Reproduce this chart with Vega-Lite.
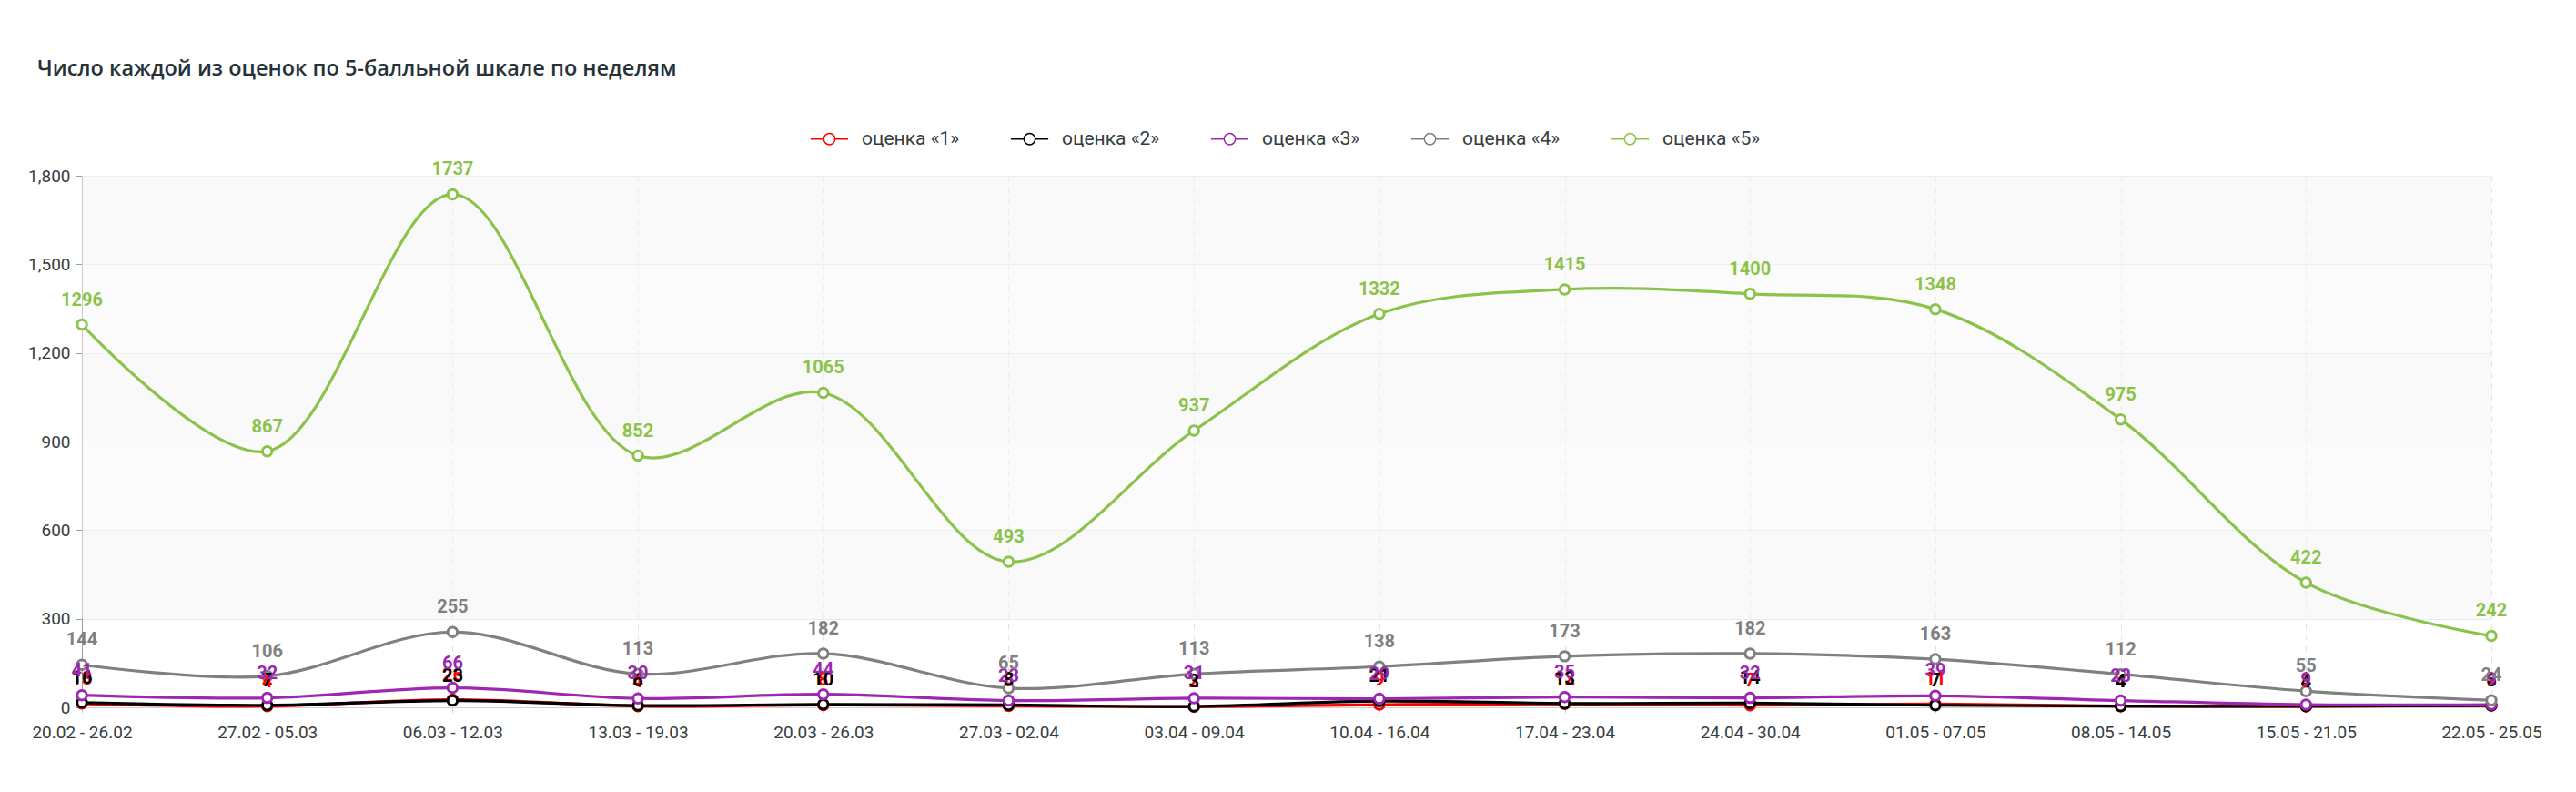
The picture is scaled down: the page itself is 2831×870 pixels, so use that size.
{
  "$schema": "https://vega.github.io/schema/vega-lite/v6.json",
  "width": 2648,
  "height": 584,
  "autosize": {"type": "none"},
  "padding": {"left": 90, "top": 193, "right": 93, "bottom": 93},
  "background": "white",
  "title": {
    "text": "Число каждой из оценок по 5-балльной шкале по неделям",
    "anchor": "start",
    "frame": "group",
    "dx": -49,
    "dy": -40,
    "font": "Open Sans",
    "fontSize": 23.5,
    "fontWeight": 600,
    "color": "#263238"
  },
  "datasets": {
    "bands": [
      {"value": 1500, "value2": 1800, "shade": "a"},
      {"value": 1200, "value2": 1500, "shade": "b"},
      {"value": 900, "value2": 1200, "shade": "a"},
      {"value": 600, "value2": 900, "shade": "b"},
      {"value": 300, "value2": 600, "shade": "a"}
    ]
  },
  "data": {
    "values": [
      {"week": "20.02 - 26.02", "series": "оценка «1»", "value": 13},
      {"week": "27.02 - 05.03", "series": "оценка «1»", "value": 4},
      {"week": "06.03 - 12.03", "series": "оценка «1»", "value": 26},
      {"week": "13.03 - 19.03", "series": "оценка «1»", "value": 4},
      {"week": "20.03 - 26.03", "series": "оценка «1»", "value": 8},
      {"week": "27.03 - 02.04", "series": "оценка «1»", "value": 5},
      {"week": "03.04 - 09.04", "series": "оценка «1»", "value": 2},
      {"week": "10.04 - 16.04", "series": "оценка «1»", "value": 9},
      {"week": "17.04 - 23.04", "series": "оценка «1»", "value": 12},
      {"week": "24.04 - 30.04", "series": "оценка «1»", "value": 7},
      {"week": "01.05 - 07.05", "series": "оценка «1»", "value": 11},
      {"week": "08.05 - 14.05", "series": "оценка «1»", "value": 4},
      {"week": "15.05 - 21.05", "series": "оценка «1»", "value": 3},
      {"week": "22.05 - 25.05", "series": "оценка «1»", "value": 7},
      {"week": "20.02 - 26.02", "series": "оценка «2»", "value": 16},
      {"week": "27.02 - 05.03", "series": "оценка «2»", "value": 7},
      {"week": "06.03 - 12.03", "series": "оценка «2»", "value": 23},
      {"week": "13.03 - 19.03", "series": "оценка «2»", "value": 6},
      {"week": "20.03 - 26.03", "series": "оценка «2»", "value": 10},
      {"week": "27.03 - 02.04", "series": "оценка «2»", "value": 8},
      {"week": "03.04 - 09.04", "series": "оценка «2»", "value": 3},
      {"week": "10.04 - 16.04", "series": "оценка «2»", "value": 21},
      {"week": "17.04 - 23.04", "series": "оценка «2»", "value": 13},
      {"week": "24.04 - 30.04", "series": "оценка «2»", "value": 14},
      {"week": "01.05 - 07.05", "series": "оценка «2»", "value": 7},
      {"week": "08.05 - 14.05", "series": "оценка «2»", "value": 4},
      {"week": "15.05 - 21.05", "series": "оценка «2»", "value": 4},
      {"week": "22.05 - 25.05", "series": "оценка «2»", "value": 6},
      {"week": "20.02 - 26.02", "series": "оценка «3»", "value": 41},
      {"week": "27.02 - 05.03", "series": "оценка «3»", "value": 32},
      {"week": "06.03 - 12.03", "series": "оценка «3»", "value": 66},
      {"week": "13.03 - 19.03", "series": "оценка «3»", "value": 30},
      {"week": "20.03 - 26.03", "series": "оценка «3»", "value": 44},
      {"week": "27.03 - 02.04", "series": "оценка «3»", "value": 23},
      {"week": "03.04 - 09.04", "series": "оценка «3»", "value": 31},
      {"week": "10.04 - 16.04", "series": "оценка «3»", "value": 29},
      {"week": "17.04 - 23.04", "series": "оценка «3»", "value": 35},
      {"week": "24.04 - 30.04", "series": "оценка «3»", "value": 32},
      {"week": "01.05 - 07.05", "series": "оценка «3»", "value": 39},
      {"week": "08.05 - 14.05", "series": "оценка «3»", "value": 23},
      {"week": "15.05 - 21.05", "series": "оценка «3»", "value": 9},
      {"week": "22.05 - 25.05", "series": "оценка «3»", "value": 9},
      {"week": "20.02 - 26.02", "series": "оценка «4»", "value": 144},
      {"week": "27.02 - 05.03", "series": "оценка «4»", "value": 106},
      {"week": "06.03 - 12.03", "series": "оценка «4»", "value": 255},
      {"week": "13.03 - 19.03", "series": "оценка «4»", "value": 113},
      {"week": "20.03 - 26.03", "series": "оценка «4»", "value": 182},
      {"week": "27.03 - 02.04", "series": "оценка «4»", "value": 65},
      {"week": "03.04 - 09.04", "series": "оценка «4»", "value": 113},
      {"week": "10.04 - 16.04", "series": "оценка «4»", "value": 138},
      {"week": "17.04 - 23.04", "series": "оценка «4»", "value": 173},
      {"week": "24.04 - 30.04", "series": "оценка «4»", "value": 182},
      {"week": "01.05 - 07.05", "series": "оценка «4»", "value": 163},
      {"week": "08.05 - 14.05", "series": "оценка «4»", "value": 112},
      {"week": "15.05 - 21.05", "series": "оценка «4»", "value": 55},
      {"week": "22.05 - 25.05", "series": "оценка «4»", "value": 24},
      {"week": "20.02 - 26.02", "series": "оценка «5»", "value": 1296},
      {"week": "27.02 - 05.03", "series": "оценка «5»", "value": 867},
      {"week": "06.03 - 12.03", "series": "оценка «5»", "value": 1737},
      {"week": "13.03 - 19.03", "series": "оценка «5»", "value": 852},
      {"week": "20.03 - 26.03", "series": "оценка «5»", "value": 1065},
      {"week": "27.03 - 02.04", "series": "оценка «5»", "value": 493},
      {"week": "03.04 - 09.04", "series": "оценка «5»", "value": 937},
      {"week": "10.04 - 16.04", "series": "оценка «5»", "value": 1332},
      {"week": "17.04 - 23.04", "series": "оценка «5»", "value": 1415},
      {"week": "24.04 - 30.04", "series": "оценка «5»", "value": 1400},
      {"week": "01.05 - 07.05", "series": "оценка «5»", "value": 1348},
      {"week": "08.05 - 14.05", "series": "оценка «5»", "value": 975},
      {"week": "15.05 - 21.05", "series": "оценка «5»", "value": 422},
      {"week": "22.05 - 25.05", "series": "оценка «5»", "value": 242}
    ]
  },
  "encoding": {
    "y": {
      "field": "value",
      "type": "quantitative",
      "scale": {"domain": [0, 1800], "nice": false},
      "axis": {
        "title": null,
        "values": [0, 300, 600, 900, 1200, 1500, 1800],
        "format": ",d",
        "grid": true,
        "gridColor": "#e9e9e9",
        "gridWidth": 1,
        "domain": true,
        "domainColor": "#9e9e9e",
        "tickColor": "#9e9e9e",
        "tickSize": 7,
        "labelPadding": 6,
        "labelFont": "Roboto",
        "labelFontSize": 19,
        "labelColor": "#373d3f"
      }
    }
  },
  "layer": [
    {
      "data": {"name": "bands"},
      "mark": {"type": "rect", "fillOpacity": 0.5},
      "encoding": {
        "y2": {"field": "value2"},
        "color": {
          "field": "shade",
          "type": "nominal",
          "scale": {"domain": ["a", "b"], "range": ["#f3f3f3", "#f7f7f7"]},
          "legend": null
        }
      }
    },
    {
      "encoding": {
        "x": {
          "field": "week",
          "type": "nominal",
          "sort": null,
          "scale": {"type": "point", "padding": 0},
          "axis": {
            "title": null,
            "labelAngle": 0,
            "grid": true,
            "gridColor": "#e3e3e3",
            "gridDash": [6, 6],
            "domainColor": "#d0d0d0",
            "tickColor": "#d0d0d0",
            "tickSize": 6,
            "labelPadding": 12,
            "labelFont": "Roboto",
            "labelFontSize": 19,
            "labelColor": "#373d3f"
          }
        },
        "text": {"field": "value", "type": "quantitative"}
      },
      "layer": [
        {
          "mark": {"type": "line", "interpolate": "catmull-rom", "strokeWidth": 3.2},
          "encoding": {
            "text": null,
            "stroke": {
              "field": "series",
              "type": "nominal",
              "scale": {
                "domain": ["оценка «1»", "оценка «2»", "оценка «3»", "оценка «4»", "оценка «5»"],
                "range": ["#ff0000", "#000000", "#9c27b0", "#808080", "#8bc34a"]
              },
              "legend": {
                "orient": "none",
                "legendX": 800,
                "legendY": -62,
                "direction": "horizontal",
                "title": null,
                "symbolType": "M-1,0H-0.3M0.3,0H1M0.3,0A0.3,0.3 0 1 1 -0.3,0A0.3,0.3 0 1 1 0.3,0",
                "symbolSize": 1700,
                "symbolStrokeWidth": 1.5,
                "symbolFillColor": "white",
                "labelFont": "Roboto",
                "labelFontSize": 21,
                "labelColor": "#373d3f",
                "labelOffset": 14,
                "columnPadding": 52,
                "encode": {
                  "symbols": {
                    "update": {"fill": {"value": "white"}, "strokeWidth": {"value": 1.5}}
                  }
                }
              }
            }
          }
        },
        {
          "mark": {"type": "point", "shape": "circle", "filled": false, "fill": "white", "fillOpacity": 1, "size": 110, "strokeWidth": 3, "opacity": 1},
          "encoding": {
            "text": null,
            "stroke": {"field": "series", "type": "nominal"}
          }
        },
        {
          "transform": [{"filter": {"field": "series", "equal": "оценка «1»"}}],
          "mark": {"type": "text", "dy": -21, "baseline": "alphabetic", "font": "Roboto", "fontSize": 20, "fontWeight": "bold", "fill": "#ff0000"}
        },
        {
          "transform": [{"filter": {"field": "series", "equal": "оценка «2»"}}],
          "mark": {"type": "text", "dy": -21, "baseline": "alphabetic", "font": "Roboto", "fontSize": 20, "fontWeight": "bold", "fill": "#000000"}
        },
        {
          "transform": [{"filter": {"field": "series", "equal": "оценка «3»"}}],
          "mark": {"type": "text", "dy": -21, "baseline": "alphabetic", "font": "Roboto", "fontSize": 20, "fontWeight": "bold", "fill": "#9c27b0"}
        },
        {
          "transform": [{"filter": {"field": "series", "equal": "оценка «4»"}}],
          "mark": {"type": "text", "dy": -21, "baseline": "alphabetic", "font": "Roboto", "fontSize": 20, "fontWeight": "bold", "fill": "#808080"}
        },
        {
          "transform": [{"filter": {"field": "series", "equal": "оценка «5»"}}],
          "mark": {"type": "text", "dy": -21, "baseline": "alphabetic", "font": "Roboto", "fontSize": 20, "fontWeight": "bold", "fill": "#8bc34a"}
        }
      ]
    }
  ],
  "config": {
    "view": {"stroke": null}
  }
}
